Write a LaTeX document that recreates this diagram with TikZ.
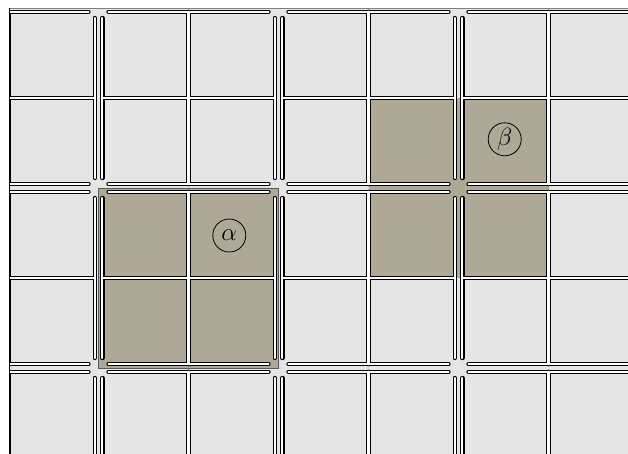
\documentclass[tikz,border=0pt]{standalone}
\usepackage{amsmath}
\usepackage{xcolor}
\usepackage{tikz}
\usetikzlibrary{positioning}
\definecolor{cellgray}{RGB}{229,229,229}
\definecolor{tilebrown}{RGB}{173,169,150}
% one 2x2 tile: four border strands and the inner cross
\newcommand{\tilelines}[2]{%
  \draw[strand] (#1+10,#2+3.8) -- (#1+170,#2+3.8)
                (#1+10,#2+176.2) -- (#1+170,#2+176.2)
                (#1+3.8,#2+10) -- (#1+3.8,#2+170)
                (#1+176.2,#2+10) -- (#1+176.2,#2+170)
                (#1+90,#2+3.8) -- (#1+90,#2+176.2)
                (#1+3.8,#2+90) -- (#1+176.2,#2+90);}

\begin{document}
\begin{tikzpicture}[
            x=1pt, y=-1pt,
            strand/.style={draw=black, line width=1.1pt, double=white,
                           double distance=2.2pt, line cap=round},
            tag/.style={circle, draw, line width=0.8pt, minimum size=33pt,
                        inner sep=0pt, font=\Huge},
        ]
        \useasboundingbox (0,0) rectangle (628,454);

        \begin{scope}
        \clip (9,8.5) rectangle (628,454);

        % Background cells
        \fill[cellgray] (0,0) rectangle (640,460);

        % Shaded tiles
        \fill[tilebrown] (368.5,98) rectangle (548.5,278);
        \filldraw[fill=tilebrown, draw=black!65, line width=0.8pt] (98.5,188) rectangle (278.5,368);

        % Tile grid, row by row
        \tilelines{-81.5}{8}
        \tilelines{98.5}{8}
        \tilelines{278.5}{8}
        \tilelines{458.5}{8}

        \tilelines{-81.5}{188}
        \tilelines{98.5}{188}
        \tilelines{278.5}{188}
        \tilelines{458.5}{188}

        \tilelines{-81.5}{368}
        \tilelines{98.5}{368}
        \tilelines{278.5}{368}
        \tilelines{458.5}{368}
        \end{scope}

        % Frame edges
        \draw[black!50, line width=1.2pt] (9,8.6) -- (628,8.6);
        \draw[black, line width=1pt] (9,8) -- (9,454);

        % Tile labels
        \node[tag] (alpha) at (229.3,235.5) {$\alpha$};
        \node[tag] (beta) at (504.7,139.3) {$\beta$};

        \end{tikzpicture}
\end{document}
